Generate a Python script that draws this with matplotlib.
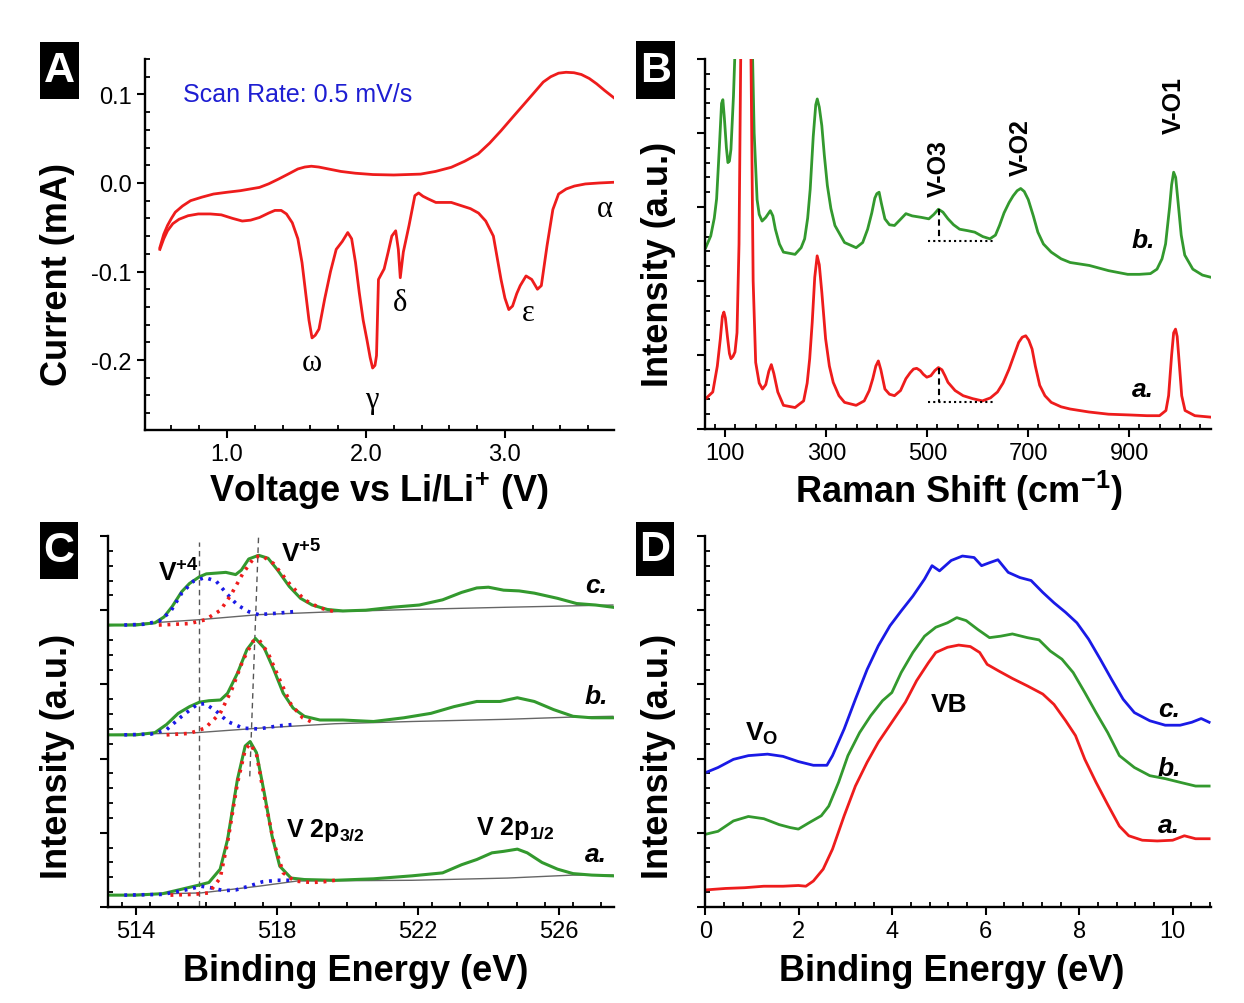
import matplotlib
matplotlib.use('Agg')
import matplotlib.pyplot as plt
from matplotlib.patches import Rectangle
from matplotlib.ticker import MultipleLocator, FormatStrFormatter, NullFormatter

plt.rcParams['font.family'] = ['Liberation Sans', 'DejaVu Sans']
plt.rcParams['axes.unicode_minus'] = False
plt.rcParams['mathtext.fontset'] = 'custom'
plt.rcParams['mathtext.rm'] = 'Liberation Sans'
plt.rcParams['mathtext.bf'] = 'Liberation Sans:bold'
plt.rcParams['mathtext.it'] = 'Liberation Sans:italic'

# ---------------- Panel A: cyclic voltammogram ----------------
cv_up_v = [0.517, 0.545, 0.572, 0.600, 0.628, 0.680, 0.738, 0.820, 0.903, 1.000, 1.097, 1.234, 1.300, 1.372,
           1.440, 1.510, 1.560, 1.607, 1.660, 1.730, 1.820, 1.924, 2.050, 2.200, 2.393, 2.500, 2.614, 2.710,
           2.807, 2.890, 2.972, 3.060, 3.138, 3.210, 3.276, 3.330, 3.386, 3.440, 3.497, 3.550, 3.607, 3.660,
           3.717, 3.786]
cv_up_i = [-0.073, -0.058, -0.048, -0.040, -0.033, -0.026, -0.020, -0.016, -0.0125, -0.0105, -0.0087, -0.005,
           -0.001, 0.0045, 0.010, 0.0158, 0.018, 0.0189, 0.0180, 0.0158, 0.0130, 0.011, 0.0095, 0.009, 0.010,
           0.0130, 0.0177, 0.0245, 0.0328, 0.045, 0.059, 0.075, 0.089, 0.102, 0.114, 0.120, 0.124, 0.1250,
           0.1245, 0.1225, 0.118, 0.112, 0.1045, 0.096]
cv_down_v = [0.517, 0.545, 0.572, 0.610, 0.655, 0.720, 0.793, 0.880, 0.959, 1.040, 1.110, 1.170, 1.234, 1.300,
             1.345, 1.390, 1.428, 1.470, 1.510, 1.540, 1.566, 1.590, 1.612, 1.635, 1.662, 1.703, 1.745, 1.786,
             1.830, 1.869, 1.897, 1.925, 1.952, 1.980, 2.007, 2.030, 2.048, 2.065, 2.076, 2.090, 2.131, 2.160,
             2.186, 2.214, 2.233, 2.247, 2.269, 2.310, 2.352, 2.379, 2.410, 2.448, 2.503, 2.614, 2.752, 2.810,
             2.862, 2.917, 2.945, 2.972, 3.000, 3.028, 3.055, 3.085, 3.110, 3.152, 3.193, 3.234, 3.262, 3.303,
             3.345, 3.386, 3.441, 3.500, 3.579, 3.680, 3.786]
cv_down_i = [-0.075, -0.063, -0.054, -0.046, -0.041, -0.037, -0.035, -0.035, -0.036, -0.040, -0.043, -0.042,
             -0.039, -0.034, -0.031, -0.031, -0.035, -0.045, -0.063, -0.090, -0.124, -0.155, -0.175, -0.172,
             -0.165, -0.131, -0.100, -0.075, -0.066, -0.056, -0.063, -0.090, -0.124, -0.155, -0.177, -0.197,
             -0.209, -0.206, -0.195, -0.109, -0.097, -0.078, -0.060, -0.054, -0.075, -0.107, -0.078, -0.048,
             -0.0143, -0.0113, -0.015, -0.018, -0.022, -0.022, -0.029, -0.034, -0.043, -0.060, -0.085, -0.109,
             -0.130, -0.143, -0.139, -0.125, -0.116, -0.105, -0.109, -0.120, -0.116, -0.071, -0.030, -0.0125,
             -0.0068, -0.0035, -0.0011, 0.0000, 0.0008]
cv_peak_labels = ['ω', 'γ', 'δ', 'ε', 'α']
cv_peak_x = [1.607, 2.043, 2.247, 3.166, 3.717]
cv_peak_y = [-0.203, -0.245, -0.135, -0.146, -0.029]

# ---------------- Panel B: Raman ----------------
raman_a_x = [61, 75, 84, 90, 94, 97, 100, 104, 108, 111, 115, 119, 123, 127, 131, 140, 150, 155, 160, 167,
             173.5, 180, 186, 191, 196, 203.8, 215, 238, 255, 262, 267, 272, 277, 281.8, 286, 291, 298.5,
             306, 313.6, 325, 336, 359, 375, 385, 392, 398, 403, 408, 416, 425, 435, 447, 457.6, 466, 472.7,
             479, 486, 492, 499, 507, 515, 522, 529, 535, 541, 555, 571, 590, 609, 625, 639, 650, 662, 672,
             681, 688, 695, 701, 707.6, 714, 722.7, 733, 745.5, 765, 783, 820, 859, 900, 935, 960, 972.7,
             978, 984, 988, 991.7, 995, 999, 1004, 1010.6, 1030, 1062]
raman_a_y = [0.41, 0.50, 0.85, 1.22, 1.52, 1.58, 1.50, 1.25, 1.02, 0.95, 0.98, 1.04, 1.3, 2.5, 5.5, 9.0, 5.5,
             2.0, 0.9, 0.62, 0.54, 0.60, 0.78, 0.87, 0.75, 0.50, 0.32, 0.29, 0.38, 0.62, 0.95, 1.44, 2.05,
             2.34, 2.22, 1.85, 1.22, 0.85, 0.63, 0.45, 0.36, 0.32, 0.38, 0.52, 0.68, 0.85, 0.92, 0.80, 0.54,
             0.47, 0.45, 0.52, 0.68, 0.76, 0.81, 0.82, 0.79, 0.74, 0.70, 0.72, 0.79, 0.83, 0.80, 0.72, 0.63,
             0.52, 0.45, 0.41, 0.38, 0.42, 0.50, 0.62, 0.81, 1.00, 1.17, 1.24, 1.26, 1.20, 1.08, 0.85, 0.59,
             0.45, 0.36, 0.30, 0.27, 0.23, 0.20, 0.19, 0.18, 0.18, 0.25, 0.45, 1.00, 1.30, 1.35, 1.25, 0.90,
             0.45, 0.25, 0.18, 0.16]
raman_b_x = [61, 71, 78, 82.6, 88, 92.4, 95, 98, 102, 105, 108, 111, 116, 120, 137, 153, 157, 162.8, 167,
             172.7, 180, 189, 194, 199, 207, 215, 238, 250, 257, 263, 268, 274, 279, 282, 286, 291, 296, 302,
             309, 317, 336, 359, 372, 381.8, 390, 396, 400, 404.5, 409, 416, 425, 435, 445, 457.6, 470, 488,
             503, 513, 522, 531, 541, 552, 564, 580, 594, 610, 624, 635, 643, 652, 662, 670, 678, 685, 692,
             700, 710, 719, 730, 745.5, 765, 783, 821, 859, 897, 920, 942, 955, 965, 972, 976, 980, 984, 988,
             992, 997, 1003, 1010, 1026, 1045, 1062]
raman_b_y = [2.45, 2.61, 2.85, 3.11, 3.80, 4.40, 4.45, 4.20, 3.80, 3.60, 3.62, 3.78, 4.5, 5.3, 8.5, 5.3,
             4.0, 3.10, 2.90, 2.81, 2.86, 2.95, 2.88, 2.70, 2.50, 2.39, 2.36, 2.45, 2.57, 2.85, 3.24, 3.95,
             4.38, 4.46, 4.35, 4.10, 3.70, 3.29, 2.98, 2.75, 2.52, 2.45, 2.52, 2.70, 2.92, 3.12, 3.18, 3.20,
             3.05, 2.84, 2.76, 2.75, 2.82, 2.91, 2.88, 2.86, 2.84, 2.90, 2.97, 2.93, 2.84, 2.76, 2.70, 2.68,
             2.66, 2.60, 2.57, 2.62, 2.75, 2.92, 3.06, 3.15, 3.22, 3.25, 3.21, 3.10, 2.88, 2.66, 2.50, 2.39,
             2.30, 2.25, 2.21, 2.14, 2.09, 2.09, 2.10, 2.16, 2.30, 2.50, 2.75, 3.00, 3.30, 3.47, 3.40, 3.05,
             2.62, 2.35, 2.16, 2.08, 2.05]
raman_mode_labels = ['V-O3', 'V-O2', 'V-O1']
raman_mode_x = [523, 685, 988]
raman_mode_y = [3.53, 3.82, 4.39]
vo3_x = 523
vo3_span = [502, 632]
vo3_b = [2.97, 2.54]
vo3_a = [0.83, 0.36]

# ---------------- Panel C: XPS V 2p ----------------
xps_c_x = [513.18, 514.0, 514.54, 514.8, 515.03, 515.3, 515.52, 515.8, 516.0, 516.28, 516.55, 516.83,
           516.99, 517.2, 517.48, 517.75, 518.02, 518.35, 518.67, 519.0, 519.43, 519.87, 520.52, 521.28,
           522.04, 522.7, 523.24, 523.67, 524.0, 524.43, 524.87, 525.3, 525.96, 526.5, 527.04, 527.53]
xps_c_y = [3.80, 3.80, 3.83, 3.91, 4.05, 4.25, 4.36, 4.45, 4.49, 4.50, 4.51, 4.48, 4.54, 4.69, 4.74, 4.70,
           4.54, 4.32, 4.16, 4.07, 4.01, 3.99, 4.00, 4.04, 4.07, 4.14, 4.24, 4.30, 4.31, 4.27, 4.26, 4.23,
           4.16, 4.09, 4.07, 4.04]
bg_c_x = [513.18, 515.74, 517.48, 519.65, 521.83, 524.54, 527.53]
bg_c_y = [3.79, 3.87, 3.94, 3.98, 4.01, 4.04, 4.07]
v4_c_x = [513.67, 514.2, 514.65, 514.98, 515.3, 515.63, 515.96, 516.28, 516.6, 516.88, 517.2, 517.48, 518.02, 518.46]
v4_c_y = [3.80, 3.81, 3.85, 3.98, 4.23, 4.39, 4.44, 4.39, 4.21, 4.07, 3.98, 3.94, 3.96, 3.98]
v5_c_x = [514.65, 515.52, 515.96, 516.4, 516.7, 517.04, 517.37, 517.59, 517.9, 518.35, 518.78, 519.22, 519.65]
v5_c_y = [3.80, 3.82, 3.87, 4.00, 4.21, 4.50, 4.72, 4.73, 4.63, 4.36, 4.14, 4.03, 3.98]

xps_b_x = [513.18, 514.0, 514.54, 514.87, 515.2, 515.52, 515.8, 516.07, 516.4, 516.6, 516.88, 517.15,
           517.39, 517.64, 517.91, 518.18, 518.46, 518.78, 519.22, 519.87, 520.74, 521.6, 522.37, 523.02,
           523.67, 524.33, 524.82, 525.3, 525.85, 526.4, 526.93, 527.53]
xps_b_y = [2.32, 2.32, 2.35, 2.46, 2.61, 2.70, 2.76, 2.78, 2.79, 2.88, 3.15, 3.47, 3.62, 3.49, 3.20, 2.88,
           2.68, 2.57, 2.52, 2.52, 2.50, 2.55, 2.61, 2.70, 2.77, 2.77, 2.82, 2.77, 2.66, 2.57, 2.55, 2.55]
bg_b_x = [513.18, 515.74, 517.48, 519.65, 521.83, 524.54, 526.4, 527.53]
bg_b_y = [2.32, 2.35, 2.41, 2.47, 2.50, 2.53, 2.56, 2.57]
v4_b_x = [513.67, 514.43, 514.87, 515.3, 515.74, 515.96, 516.28, 516.6, 517.04, 517.48, 518.02, 518.46]
v4_b_y = [2.32, 2.33, 2.39, 2.57, 2.73, 2.74, 2.64, 2.50, 2.41, 2.40, 2.44, 2.46]
v5_b_x = [514.87, 515.52, 515.96, 516.39, 516.72, 517.04, 517.32, 517.48, 517.75, 518.08, 518.4, 518.73, 519.05]
v5_b_y = [2.32, 2.34, 2.41, 2.61, 2.93, 3.33, 3.58, 3.61, 3.42, 3.06, 2.73, 2.55, 2.48]

xps_a_x = [513.18, 514.0, 514.76, 515.3, 515.74, 516.07, 516.39, 516.6, 516.88, 517.1, 517.24, 517.42,
           517.64, 517.86, 518.08, 518.4, 518.78, 519.65, 520.74, 521.83, 522.7, 523.24, 523.67, 524.1,
           524.43, 524.82, 525.1, 525.52, 525.96, 526.4, 526.93, 527.53]
xps_a_y = [0.16, 0.16, 0.18, 0.24, 0.29, 0.33, 0.51, 0.91, 1.72, 2.17, 2.23, 2.08, 1.54, 0.96, 0.55, 0.39,
           0.37, 0.36, 0.38, 0.42, 0.46, 0.57, 0.64, 0.73, 0.75, 0.78, 0.73, 0.60, 0.51, 0.45, 0.43, 0.42]
bg_a_x = [513.18, 515.85, 517.48, 518.57, 521.83, 524.54, 526.4, 527.53]
bg_a_y = [0.16, 0.19, 0.28, 0.35, 0.36, 0.39, 0.43, 0.43]
v4_a_x = [513.67, 514.76, 515.41, 515.85, 516.12, 516.5, 516.83, 517.2, 517.59, 518.02, 518.46]
v4_a_y = [0.16, 0.17, 0.23, 0.28, 0.26, 0.22, 0.23, 0.28, 0.34, 0.36, 0.36]
v5_a_x = [514.98, 515.63, 516.07, 516.39, 516.6, 516.88, 517.1, 517.24, 517.42, 517.64, 517.91, 518.18,
          518.5, 519.0, 519.33, 519.65]
v5_a_y = [0.16, 0.17, 0.19, 0.39, 0.87, 1.67, 2.12, 2.20, 2.06, 1.49, 0.87, 0.46, 0.35, 0.33, 0.34, 0.36]
guide1_x = [515.79, 515.79]
guide1_y = [0.01, 4.92]
guide2_x = [517.23, 517.48]
guide2_y = [1.76, 5.0]

# ---------------- Panel D: valence band ----------------
vb_a_x = [0, 0.43, 0.84, 1.25, 1.66, 1.99, 2.15, 2.31, 2.52, 2.72, 2.97, 3.21, 3.46, 3.70, 3.99, 4.28, 4.52,
          4.77, 4.93, 5.18, 5.42, 5.67, 5.87, 6.03, 6.28, 6.57, 6.89, 7.22, 7.46, 7.71, 7.92, 8.12, 8.36,
          8.61, 8.86, 9.06, 9.35, 9.67, 10.0, 10.25, 10.49, 10.78]
vb_a_y = [0.23, 0.25, 0.26, 0.28, 0.28, 0.29, 0.28, 0.35, 0.51, 0.78, 1.23, 1.63, 1.95, 2.22, 2.49, 2.76,
          3.05, 3.29, 3.43, 3.50, 3.53, 3.51, 3.43, 3.27, 3.18, 3.08, 2.98, 2.87, 2.73, 2.51, 2.31, 1.99,
          1.68, 1.38, 1.09, 0.96, 0.90, 0.89, 0.90, 0.96, 0.92, 0.92]
vb_b_x = [0, 0.27, 0.60, 0.92, 1.25, 1.58, 1.82, 1.99, 2.23, 2.48, 2.64, 2.85, 3.05, 3.30, 3.54, 3.79, 3.99,
          4.19, 4.44, 4.69, 4.93, 5.18, 5.38, 5.58, 5.83, 6.08, 6.32, 6.57, 6.89, 7.14, 7.38, 7.63, 7.87,
          8.12, 8.36, 8.61, 8.86, 9.18, 9.51, 9.84, 10.16, 10.49, 10.78]
vb_b_y = [0.98, 1.02, 1.16, 1.22, 1.19, 1.11, 1.07, 1.05, 1.14, 1.23, 1.36, 1.68, 2.04, 2.35, 2.58, 2.78,
          2.89, 3.16, 3.43, 3.65, 3.77, 3.83, 3.90, 3.86, 3.74, 3.63, 3.65, 3.68, 3.63, 3.60, 3.45, 3.34,
          3.16, 2.89, 2.62, 2.35, 2.04, 1.88, 1.77, 1.73, 1.68, 1.63, 1.63]
vb_c_x = [0, 0.27, 0.60, 0.92, 1.33, 1.66, 1.99, 2.31, 2.60, 2.72, 2.97, 3.21, 3.46, 3.70, 3.95, 4.19, 4.44,
          4.69, 4.85, 5.01, 5.26, 5.50, 5.75, 5.91, 6.08, 6.26, 6.48, 6.73, 6.97, 7.22, 7.46, 7.71, 7.95,
          8.20, 8.45, 8.69, 8.94, 9.18, 9.51, 9.84, 10.16, 10.41, 10.61, 10.78]
vb_c_y = [1.81, 1.88, 1.99, 2.04, 2.06, 2.03, 1.96, 1.91, 1.91, 2.04, 2.40, 2.80, 3.20, 3.52, 3.79, 3.99,
          4.19, 4.42, 4.60, 4.53, 4.67, 4.73, 4.71, 4.60, 4.64, 4.68, 4.51, 4.44, 4.40, 4.24, 4.10, 3.97,
          3.83, 3.61, 3.34, 3.07, 2.80, 2.62, 2.51, 2.45, 2.45, 2.49, 2.54, 2.49]

# ---------------- styling ----------------
RED = '#ee1c1c'
GREEN = '#33992e'
BLUE = '#1a1ae6'
LW = 2.0
W, H = 1244, 1004

fig = plt.figure(figsize=(W / 100, H / 100), dpi=100)


def px_rect(x0, y0, x1, y1):
    return [x0 / W, 1 - y1 / H, (x1 - x0) / W, (y1 - y0) / H]


def style(ax, xmaj, xmin, ymaj, ymin, yfmt=None, xfmt=None):
    for s in ['top', 'right']:
        ax.spines[s].set_visible(False)
    for s in ['left', 'bottom']:
        ax.spines[s].set_linewidth(1.7)
    ax.xaxis.set_major_locator(MultipleLocator(xmaj))
    ax.xaxis.set_minor_locator(MultipleLocator(xmin))
    ax.yaxis.set_major_locator(MultipleLocator(ymaj))
    ax.yaxis.set_minor_locator(MultipleLocator(ymin))
    ax.tick_params(which='major', direction='out', length=5.5, width=1.5, labelsize=17, pad=4)
    ax.tick_params(which='minor', direction='in', length=3.5, width=1.3)
    if yfmt is None:
        ax.yaxis.set_major_formatter(NullFormatter())
    else:
        ax.yaxis.set_major_formatter(FormatStrFormatter(yfmt))
    if xfmt is not None:
        ax.xaxis.set_major_formatter(FormatStrFormatter(xfmt))


def panel_letter(x0, y0, x1, y1, letter):
    fig.add_artist(Rectangle((x0 / W, 1 - y1 / H), (x1 - x0) / W, (y1 - y0) / H,
                             transform=fig.transFigure, facecolor='black', edgecolor='none'))
    fig.text((x0 + x1) / 2 / W, 1 - (y0 + y1) / 2 / H, letter, color='white', fontsize=31,
             fontweight='bold', ha='center', va='center')


def fig_label(x, y, s, rot=0):
    fig.text(x / W, 1 - y / H, s, fontsize=26, fontweight='bold', ha='center', va='center', rotation=rot)


# Panel A
axA = fig.add_axes(px_rect(145, 60, 614, 431))
axA.plot(cv_up_v, cv_up_i, color=RED, lw=LW)
axA.plot(cv_down_v, cv_down_i, color=RED, lw=LW)
axA.set_xlim(0.41, 3.785)
axA.set_ylim(-0.279, 0.14)
style(axA, 1.0, 0.2, 0.1, 0.02, yfmt='%.1f', xfmt='%.1f')
axA.set_yticks([-0.2, -0.1, 0.0, 0.1])
for lab, x, y in zip(cv_peak_labels, cv_peak_x, cv_peak_y):
    axA.text(x, y, lab, fontsize=22, family=['Liberation Serif', 'DejaVu Serif'], ha='center', va='center')
axA.text(0.683, 0.1, 'Scan Rate: 0.5 mV/s', color='#1e1ed2', fontsize=18, ha='left', va='center')

# Panel B
axB = fig.add_axes(px_rect(705.4, 60, 1211, 430))
axB.plot(raman_b_x, raman_b_y, color=GREEN, lw=LW)
axB.plot(raman_a_x, raman_a_y, color=RED, lw=LW)
axB.set_xlim(60.4, 1062)
axB.set_ylim(0, 5)
style(axB, 200, 40, 1, 0.2)
axB.set_xticks([100, 300, 500, 700, 900])
axB.plot([vo3_x, vo3_x], vo3_b, color='black', lw=1.5, ls=(0, (3, 2)))
axB.plot(vo3_span, [vo3_b[1], vo3_b[1]], color='black', lw=1.5, ls=(0, (1, 1.5)))
axB.plot([vo3_x, vo3_x], vo3_a, color='black', lw=1.5, ls=(0, (3, 2)))
axB.plot(vo3_span, [vo3_a[1], vo3_a[1]], color='black', lw=1.5, ls=(0, (1, 1.5)))
for lab, x, y in zip(raman_mode_labels, raman_mode_x, raman_mode_y):
    axB.text(x, y, lab, rotation=90, fontsize=18, fontweight='bold', ha='center', va='center')
axB.text(927, 2.55, 'b.', fontsize=19, fontweight='bold', style='italic', ha='center', va='center')
axB.text(927, 0.54, 'a.', fontsize=19, fontweight='bold', style='italic', ha='center', va='center')

# Panel C
axC = fig.add_axes(px_rect(108.4, 537, 613.6, 908))
DOT = (0, (0.8, 1.6))
for gx, gy in [(guide1_x, guide1_y), (guide2_x, guide2_y)]:
    axC.plot(gx, gy, color='#555555', lw=1.0, ls=(0, (4, 3)))
for (bx, by, sx, sy, fx4, fy4, fx5, fy5) in [
        (bg_c_x, bg_c_y, xps_c_x, xps_c_y, v4_c_x, v4_c_y, v5_c_x, v5_c_y),
        (bg_b_x, bg_b_y, xps_b_x, xps_b_y, v4_b_x, v4_b_y, v5_b_x, v5_b_y),
        (bg_a_x, bg_a_y, xps_a_x, xps_a_y, v4_a_x, v4_a_y, v5_a_x, v5_a_y)]:
    axC.plot(bx, by, color='#666666', lw=1.0)
    axC.plot(sx, sy, color=GREEN, lw=2.2)
    axC.plot(fx4, fy4, color=BLUE, lw=2.6, ls=DOT)
    axC.plot(fx5, fy5, color=RED, lw=2.6, ls=DOT)
axC.set_xlim(513.22, 527.55)
axC.set_ylim(0, 5)
style(axC, 4, 0.8, 1, 0.2)
axC.set_xticks([514, 518, 522, 526])
axC.text(515.2, 4.52, 'V$^{\\mathbf{+4}}$', fontsize=19, fontweight='bold', ha='center', va='center')
axC.text(518.7, 4.77, 'V$^{\\mathbf{+5}}$', fontsize=19, fontweight='bold', ha='center', va='center')
axC.text(519.38, 1.04, 'V 2p$_{\\mathbf{3/2}}$', fontsize=18, fontweight='bold', ha='center', va='center')
axC.text(524.76, 1.07, 'V 2p$_{\\mathbf{1/2}}$', fontsize=18, fontweight='bold', ha='center', va='center')
for lab, y in [('c.', 4.34), ('b.', 2.85), ('a.', 0.71)]:
    axC.text(527.05, y, lab, fontsize=19, fontweight='bold', style='italic', ha='center', va='center')

# Panel D
axD = fig.add_axes(px_rect(705.4, 537, 1211, 908))
axD.plot(vb_c_x, vb_c_y, color=BLUE, lw=LW)
axD.plot(vb_b_x, vb_b_y, color=GREEN, lw=LW)
axD.plot(vb_a_x, vb_a_y, color=RED, lw=LW)
axD.set_xlim(0, 10.82)
axD.set_ylim(0, 5)
style(axD, 2, 0.4, 1, 0.2)
axD.text(1.2, 2.35, 'V$_{\\mathbf{O}}$', fontsize=19, fontweight='bold', ha='center', va='center')
axD.text(5.22, 2.73, 'VB', fontsize=19, fontweight='bold', ha='center', va='center')
for lab, y in [('c.', 2.67), ('b.', 1.88), ('a.', 1.11)]:
    axD.text(9.92, y, lab, fontsize=19, fontweight='bold', style='italic', ha='center', va='center')

# axis labels
fig_label(57.7, 275, 'Current (mA)', rot=90)
fig_label(379, 491, 'Voltage vs Li/Li$^{\\mathbf{+}}$ (V)')
fig_label(658, 264, 'Intensity (a.u.)', rot=90)
fig_label(959, 491, 'Raman Shift (cm$^{\\mathbf{-1}}$)')
fig_label(57.7, 756, 'Intensity (a.u.)', rot=90)
fig_label(356, 972, 'Binding Energy (eV)')
fig_label(658, 756, 'Intensity (a.u.)', rot=90)
fig_label(952, 972, 'Binding Energy (eV)')

panel_letter(40, 43, 79, 100, 'A')
panel_letter(636, 42, 675, 100, 'B')
panel_letter(40, 523, 78, 580, 'C')
panel_letter(636, 523, 674, 577, 'D')

fig.savefig('out.png', dpi=100)
